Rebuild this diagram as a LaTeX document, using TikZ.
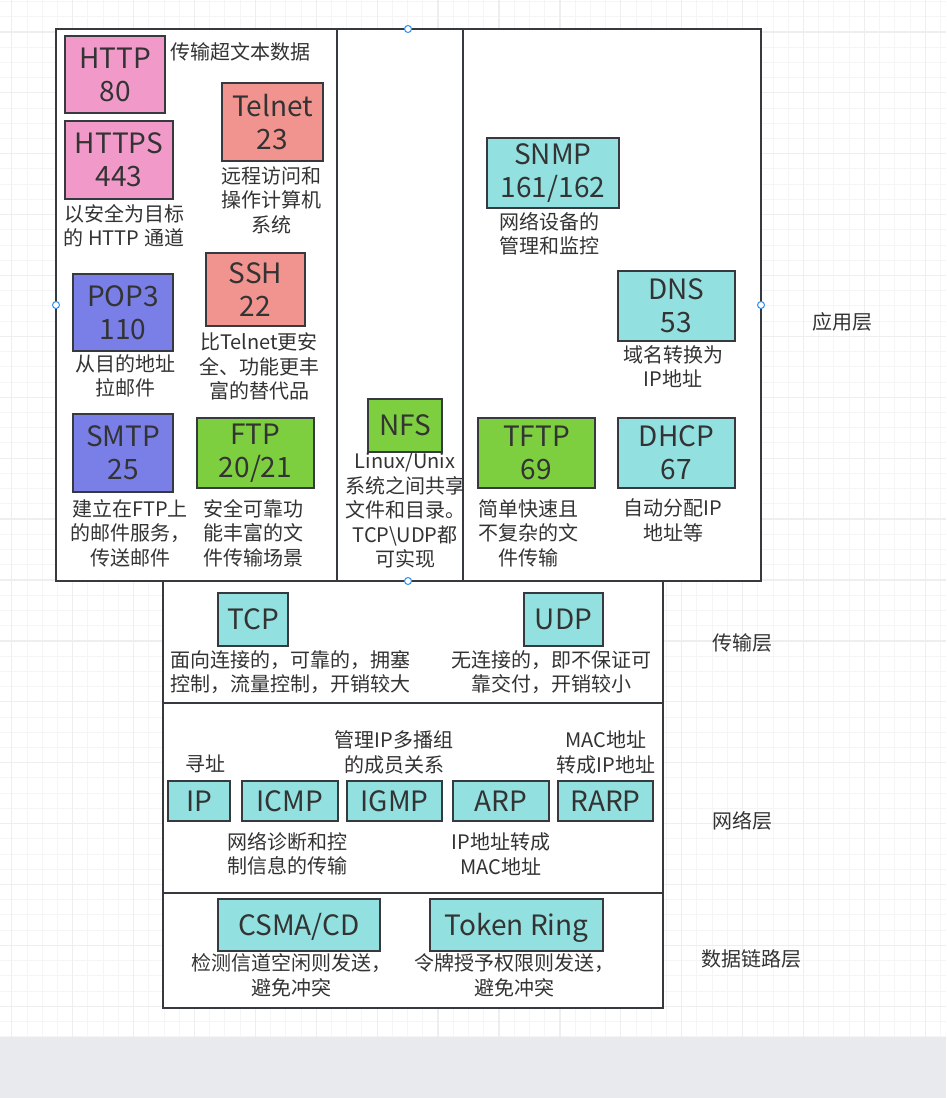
\documentclass[tikz,border=0pt]{standalone}
\usepackage{fontspec}
\setmainfont{Noto Sans CJK SC}
\definecolor{bordc}{HTML}{36393D}
\definecolor{txt}{HTML}{333333}
\definecolor{cpink}{HTML}{F19AC9}
\definecolor{csalmon}{HTML}{F1948F}
\definecolor{cviolet}{HTML}{7A7FE8}
\definecolor{cgreen}{HTML}{7DCF3F}
\definecolor{ccyan}{HTML}{93E0E0}
\definecolor{gridminor}{HTML}{F5F5F5}
\definecolor{gridmajor}{HTML}{EEEEEE}
\definecolor{greyband}{HTML}{E9EAED}
\definecolor{handle}{HTML}{2F8CF0}
\tikzset{
  proto/.style={draw=bordc, line width=1.5pt, text=txt, align=center, inner sep=0pt,
    font=\fontsize{28}{33}\selectfont},
  oneline/.style={text height=20.5pt, text depth=0pt},
  lbl/.style={text=txt, align=center, inner sep=0pt, font=\fontsize{20}{24.5}\selectfont},
  layerbox/.style={draw=bordc, line width=1.5pt, fill=white},
  handlept/.style={draw=handle, fill=white, line width=1pt},
}
\begin{document}
\begin{tikzpicture}[x=1pt,y=-1pt]
\useasboundingbox (0,0) rectangle (946,1098);
% background grid
\fill[white] (0,0) rectangle (946,1037);
\foreach \i in {0,...,62} {
  \draw[gridminor, line width=1pt] ({11.8+15.225*\i},0) -- ({11.8+15.225*\i},1037);
}
\foreach \i in {0,...,68} {
  \draw[gridminor, line width=1pt] (0,{1.45+15.225*\i}) -- (946,{1.45+15.225*\i});
}
\foreach \i in {0,...,15} {
  \draw[gridmajor, line width=1.3pt] ({11.8+60.9*\i},0) -- ({11.8+60.9*\i},1037);
}
\foreach \i in {0,...,16} {
  \draw[gridmajor, line width=1.3pt] (0,{31.9+60.9*\i}) -- (946,{31.9+60.9*\i});
}
\fill[greyband] (0,1037) rectangle (946,1098);

% layer boxes
\draw[layerbox] (163,581) rectangle (663,703);
\draw[layerbox] (163,703) rectangle (663,893);
\draw[layerbox] (163,893) rectangle (663,1008);
\draw[layerbox] (56,29) rectangle (761,581);
\draw[layerbox] (337,29) rectangle (463,581);

% application layer
\node[proto, fill=cpink, minimum width=100pt, minimum height=77pt] (http) at (115,74.5) {HTTP\\80};
\node[proto, fill=cpink, minimum width=108pt, minimum height=78pt] (https) at (119,160) {HTTPS\\443};
\node[proto, fill=csalmon, minimum width=101pt, minimum height=78pt] (telnet) at (272.5,122) {Telnet\\23};
\node[proto, fill=csalmon, minimum width=99pt, minimum height=73pt] (ssh) at (255.5,289.5) {SSH\\22};
\node[proto, fill=cviolet, minimum width=100pt, minimum height=77pt] (pop3) at (123,312.5) {POP3\\110};
\node[proto, fill=cviolet, minimum width=100pt, minimum height=78pt] (smtp) at (123,453) {SMTP\\25};
\node[proto, fill=cgreen, minimum width=117pt, minimum height=70pt] (ftp) at (255.5,453) {FTP\\20/21};
\node[proto, oneline, fill=cgreen, minimum width=74pt, minimum height=53pt] (nfs) at (405,425.5) {NFS};
\node[proto, fill=ccyan, minimum width=132pt, minimum height=70pt] (snmp) at (553,173) {SNMP\\161/162};
\node[proto, fill=ccyan, minimum width=117pt, minimum height=70pt] (dns) at (676.5,306) {DNS\\53};
\node[proto, fill=cgreen, minimum width=117pt, minimum height=70pt] (tftp) at (536.5,453) {TFTP\\69};
\node[proto, fill=ccyan, minimum width=117pt, minimum height=70pt] (dhcp) at (676.5,453) {DHCP\\67};

\node[lbl] (lhttp) at (240.5,51.5) {传输超文本数据};
\node[lbl] (lhttps) at (124,225.5) {以安全为目标\\的 HTTP 通道};
\node[lbl] (ltelnet) at (271,200) {远程访问和\\操作计算机\\系统};
\node[lbl] (lssh) at (259,366.7) {比Telnet更安\\全、功能更丰\\富的替代品};
\node[lbl] (lpop3) at (125,375.8) {从目的地址\\拉邮件};
\node[lbl] (lsmtp) at (130,533) {建立在FTP上\\的邮件服务，\\传送邮件};
\node[lbl] (lftp) at (253,533) {安全可靠功\\能丰富的文\\件传输场景};
\node[lbl] (lnfs) at (405,510.5) {Linux/Unix\\系统之间共享\\文件和目录。\\TCP\textbackslash UDP都\\可实现};
\node[lbl] (lsnmp) at (549,234) {网络设备的\\管理和监控};
\node[lbl] (ldns) at (673,366.7) {域名转换为\\IP地址};
\node[lbl] (ltftp) at (528,533) {简单快速且\\不复杂的文\\件传输};
\node[lbl] (ldhcp) at (673,520.5) {自动分配IP\\地址等};

% transport layer
\node[proto, oneline, fill=ccyan, minimum width=70pt, minimum height=53pt] (tcp) at (253,619.5) {TCP};
\node[proto, oneline, fill=ccyan, minimum width=79pt, minimum height=53pt] (udp) at (563.5,619.5) {UDP};
\node[lbl] (ltcp) at (290,672) {面向连接的，可靠的，拥塞\\控制，流量控制，开销较大};
\node[lbl] (ludp) at (551,672) {无连接的，即不保证可\\靠交付，开销较小};

% network layer
\node[proto, oneline, fill=ccyan, minimum width=62pt, minimum height=40pt] (ip) at (199,801) {IP};
\node[proto, oneline, fill=ccyan, minimum width=96pt, minimum height=40pt] (icmp) at (290,801) {ICMP};
\node[proto, oneline, fill=ccyan, minimum width=95pt, minimum height=40pt] (igmp) at (394.5,801) {IGMP};
\node[proto, oneline, fill=ccyan, minimum width=96pt, minimum height=40pt] (arp) at (501,801) {ARP};
\node[proto, oneline, fill=ccyan, minimum width=95pt, minimum height=40pt] (rarp) at (605.5,801) {RARP};
\node[lbl] (lip) at (205,764) {寻址};
\node[lbl] (ligmp) at (394,752.5) {管理IP多播组\\的成员关系};
\node[lbl] (lrarp) at (606,752.5) {MAC地址\\转成IP地址};
\node[lbl] (licmp) at (287,854) {网络诊断和控\\制信息的传输};
\node[lbl] (larp) at (501,854) {IP地址转成\\MAC地址};

% data link layer
\node[proto, oneline, fill=ccyan, minimum width=162pt, minimum height=52pt] (csma) at (299,925) {CSMA/CD};
\node[proto, oneline, fill=ccyan, minimum width=173pt, minimum height=52pt] (token) at (516.5,925) {Token Ring};
\node[lbl] (lcsma) at (291,975.5) {检测信道空闲则发送，\\避免冲突};
\node[lbl] (ltoken) at (514,975.5) {令牌授予权限则发送，\\避免冲突};

% layer names
\node[lbl] (app) at (842,322) {应用层};
\node[lbl] (trans) at (742,643) {传输层};
\node[lbl] (net) at (742,821) {网络层};
\node[lbl] (link) at (751,959) {数据链路层};

% selection handles
\draw[handlept] (408,29) circle (3.5pt);
\draw[handlept] (56,305) circle (3.5pt);
\draw[handlept] (761,305) circle (3.5pt);
\draw[handlept] (408,581) circle (3.5pt);
\end{tikzpicture}
\end{document}
